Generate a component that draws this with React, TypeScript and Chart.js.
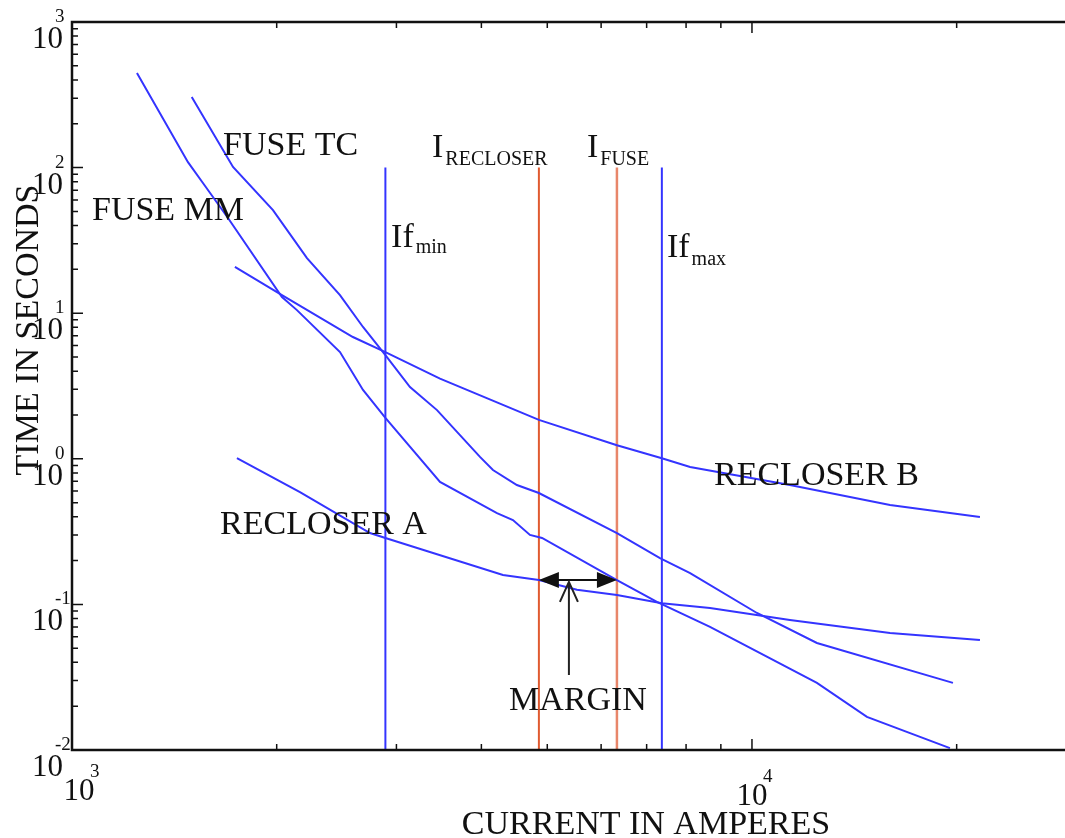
import React, { useEffect, useRef } from "react";
import { Chart, registerables } from "chart.js";

Chart.register(...registerables);

// Time-current characteristics (current in A, time in s)
const FUSE_MM_CURRENT = [1246, 1481, 1558, 1696, 2036, 2142, 2478, 2679, 2890, 3477, 4217, 4451, 4715, 4912, 6330, 7248, 8675, 12460, 14760, 19550];
const FUSE_MM_TIME = [446, 109, 78.4, 45.1, 12.9, 10.5, 5.41, 2.97, 1.91, 0.693, 0.424, 0.38, 0.3, 0.286, 0.147, 0.104, 0.07, 0.0289, 0.0169, 0.0103];

const FUSE_TC_CURRENT = [1500, 1725, 1975, 2216, 2478, 2679, 2890, 3141, 3442, 3981, 4160, 4511, 4860, 6330, 7323, 8110, 10170, 12460, 19750];
const FUSE_TC_TIME = [305, 101, 51.1, 23.9, 13.3, 8.04, 5.16, 3.11, 2.16, 1.03, 0.838, 0.661, 0.582, 0.309, 0.208, 0.164, 0.0873, 0.0543, 0.0289];

const RECLOSER_B_CURRENT = [1736, 2036, 2589, 2890, 3477, 4860, 6330, 7370, 8110, 11370, 15960, 21640];
const RECLOSER_B_TIME = [20.8, 13.3, 6.86, 5.41, 3.55, 1.85, 1.24, 1.01, 0.878, 0.661, 0.482, 0.398];

const RECLOSER_A_CURRENT = [1748, 2164, 2743, 2890, 4303, 4860, 5528, 6330, 7370, 8675, 11370, 15960, 21640];
const RECLOSER_A_TIME = [1.01, 0.591, 0.309, 0.286, 0.159, 0.147, 0.126, 0.116, 0.102, 0.0945, 0.0781, 0.0636, 0.0569];

// Fault / pickup currents marked by vertical lines
const IF_MIN = 2890;
const I_RECLOSER = 4860;
const I_FUSE = 6330;
const IF_MAX = 7370;
const VLINE_TOP = 100;

// Coordination margin
const MARGIN_TIME = 0.147;
const MARGIN_POINTER_CURRENT = 5380;
const MARGIN_POINTER_TIME = [0.0327, 0.1426];

// Axis extents and decades
const X_MIN = 1000;
const X_MAX = 30000;
const Y_MIN = 0.01;
const Y_MAX = 1000;
const X_DECADES = [3, 4];
const Y_DECADES = [-2, -1, 0, 1, 2, 3];

const BLUE = "#3434ff";
const FONT = '"Liberation Serif", "Times New Roman", serif';

const pts = (xs: number[], ys: number[]) => xs.map((x, i) => ({ x, y: ys[i] }));
const vline = (x: number) => [{ x, y: VLINE_TOP }, { x, y: Y_MIN }];

const curve = (label: string, data: { x: number; y: number }[], color: string, width = 2) => ({
  label,
  data,
  borderColor: color,
  backgroundColor: color,
  borderWidth: width,
  showLine: true,
  pointRadius: 0,
  tension: 0,
  fill: false,
});

function text(ctx: CanvasRenderingContext2D, s: string, x: number, y: number, size: number, align: CanvasTextAlign = "left") {
  ctx.font = `${size}px ${FONT}`;
  ctx.textAlign = align;
  ctx.textBaseline = "alphabetic";
  ctx.fillText(s, x, y);
}

const annotations = {
  id: "annotations",
  afterDatasetsDraw(chart: any) {
    const ctx: CanvasRenderingContext2D = chart.ctx;
    const xs = chart.scales.x;
    const ys = chart.scales.y;
    const { left, right, top, bottom } = chart.chartArea;
    const px = (v: number) => xs.getPixelForValue(v);
    const py = (v: number) => ys.getPixelForValue(v);

    ctx.save();
    ctx.fillStyle = "#111";
    ctx.strokeStyle = "#111";

    // frame
    ctx.lineWidth = 2.5;
    ctx.strokeRect(left, top, right - left, bottom - top);

    // ticks (inward)
    ctx.lineWidth = 1.5;
    ctx.beginPath();
    for (let e = -2; e < 3; e++) {
      for (let m = 1; m <= 9; m++) {
        const v = m * Math.pow(10, e);
        const y = py(v);
        const len = m === 1 ? 11 : 6;
        ctx.moveTo(left, y);
        ctx.lineTo(left + len, y);
        ctx.moveTo(right, y);
        ctx.lineTo(right - len, y);
      }
    }
    for (let e = 3; e <= 4; e++) {
      for (let m = 1; m <= 9; m++) {
        const v = m * Math.pow(10, e);
        if (v <= X_MIN || v >= X_MAX) continue;
        const x = px(v);
        const len = m === 1 ? 11 : 6;
        ctx.moveTo(x, bottom);
        ctx.lineTo(x, bottom - len);
        ctx.moveTo(x, top);
        ctx.lineTo(x, top + len);
      }
    }
    ctx.stroke();

    // y tick labels
    Y_DECADES.forEach((e) => {
      const y = py(Math.pow(10, e));
      text(ctx, "10", 63, y + 26, 31, "right");
      text(ctx, String(e), 55, y, 19, "left");
    });
    // x tick labels
    X_DECADES.forEach((e, i) => {
      const x = px(Math.pow(10, e)) + (i === 0 ? 7 : 0);
      const by = i === 0 ? 800 : 805;
      text(ctx, "10", x, by, 31, "center");
      text(ctx, String(e), x + 11, by - 23, 19, "left");
    });

    // axis titles
    text(ctx, "CURRENT IN AMPERES", 646, 834, 34, "center");
    ctx.save();
    ctx.translate(38, 330);
    ctx.rotate(-Math.PI / 2);
    text(ctx, "TIME IN SECONDS", 0, 0, 34, "center");
    ctx.restore();

    // curve labels
    text(ctx, "FUSE TC", px(1668), py(122), 34);
    text(ctx, "FUSE MM", px(1070), py(43.7), 34);
    text(ctx, "RECLOSER A", px(1651), py(0.3045), 34);
    text(ctx, "RECLOSER B", px(8793), py(0.661), 34);
    text(ctx, "MARGIN", px(4391), py(0.01883), 34);

    // vertical line labels
    const sub = (main: string, s: string, x: number, y: number, dy: number) => {
      text(ctx, main, x, y, 34);
      ctx.font = `34px ${FONT}`;
      const w = ctx.measureText(main).width;
      text(ctx, s, x + w + 2, y + dy, 20);
    };
    sub("I", "RECLOSER", px(3384), py(118), 8);
    sub("I", "FUSE", px(5719), py(118), 8);
    sub("If", "min", px(2946), py(28.5), 6);
    sub("If", "max", px(7499), py(24.3), 8);

    // margin double arrow
    const ya = py(MARGIN_TIME);
    const xa = px(I_RECLOSER);
    const xb = px(I_FUSE);
    ctx.lineWidth = 2;
    ctx.beginPath();
    ctx.moveTo(xa + 10, ya);
    ctx.lineTo(xb - 10, ya);
    ctx.stroke();
    ctx.beginPath();
    ctx.moveTo(xa, ya);
    ctx.lineTo(xa + 20, ya - 8);
    ctx.lineTo(xa + 20, ya + 8);
    ctx.closePath();
    ctx.moveTo(xb, ya);
    ctx.lineTo(xb - 20, ya - 8);
    ctx.lineTo(xb - 20, ya + 8);
    ctx.closePath();
    ctx.fill();

    // pointer to margin
    const xm = px(MARGIN_POINTER_CURRENT);
    const y0 = py(MARGIN_POINTER_TIME[0]);
    const y1 = py(MARGIN_POINTER_TIME[1]);
    ctx.strokeStyle = "#222";
    ctx.lineWidth = 2;
    ctx.beginPath();
    ctx.moveTo(xm, y0);
    ctx.lineTo(xm, y1);
    ctx.moveTo(xm - 9, y1 + 20);
    ctx.lineTo(xm, y1);
    ctx.lineTo(xm + 9, y1 + 20);
    ctx.stroke();

    ctx.restore();
  },
};

const W = 1080;
const H = 838;

export default function App() {
  const ref = useRef<HTMLCanvasElement | null>(null);

  useEffect(() => {
    if (!ref.current) return;
    const chart = new Chart(ref.current, {
      type: "scatter",
      data: {
        datasets: [
          curve("FUSE MM", pts(FUSE_MM_CURRENT, FUSE_MM_TIME), BLUE),
          curve("FUSE TC", pts(FUSE_TC_CURRENT, FUSE_TC_TIME), BLUE),
          curve("RECLOSER B", pts(RECLOSER_B_CURRENT, RECLOSER_B_TIME), BLUE),
          curve("RECLOSER A", pts(RECLOSER_A_CURRENT, RECLOSER_A_TIME), BLUE),
          curve("If min", vline(IF_MIN), BLUE),
          curve("I recloser", vline(I_RECLOSER), "#e05a30"),
          curve("I fuse", vline(I_FUSE), "#e8866a", 2.5),
          curve("If max", vline(IF_MAX), BLUE),
        ] as any,
      },
      options: {
        animation: false,
        responsive: false,
        devicePixelRatio: 1,
        layout: { padding: { left: 72, top: 22, right: 3.6, bottom: 88 } },
        plugins: { legend: { display: false }, tooltip: { enabled: false } },
        scales: {
          x: { type: "logarithmic", min: X_MIN, max: X_MAX, display: false },
          y: { type: "logarithmic", min: Y_MIN, max: Y_MAX, display: false },
        },
      } as any,
      plugins: [annotations],
    });
    return () => chart.destroy();
  }, []);

  return (
    <div style={{ position: "fixed", left: 0, top: 0, width: 1065, height: 838, overflow: "hidden", background: "#fff" }}>
      <canvas ref={ref} width={W} height={H} style={{ width: W, height: H, display: "block" }} />
    </div>
  );
}
